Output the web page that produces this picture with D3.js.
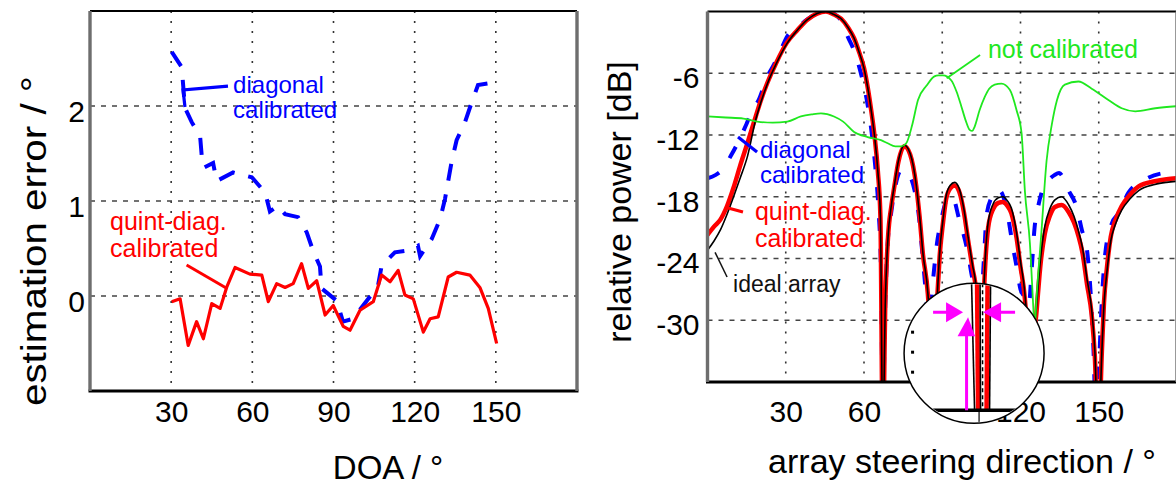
<!DOCTYPE html>
<html>
<head>
<meta charset="utf-8">
<script src="https://cdn.jsdelivr.net/npm/d3@7"></script>
<style>
  body { margin: 0; background: #fff; }
  svg text { font-family: "Liberation Sans", Arial, Helvetica, sans-serif; }
</style>
</head>
<body>
<div id="chart-area"></div>
<script>

// ---- left panel: DOA estimation error ----
var doaTicks = [30, 60, 90, 120, 150];
var errorTicks = [0, 1, 2];

var diagDoa = [30.2, 33.9, 35.1, 37.6, 40.7, 41.4, 42.1, 45.5, 46.8, 52.9, 59.8, 64.7, 66.5, 69.5, 72.1,
    76.9, 80.1, 82.4, 85.0, 85.6, 91.2, 93.5, 97.2, 102.3, 106.4, 107.8, 112.7, 117.5, 121.2, 122.0,
    126.3, 129.4, 131.2, 133.7, 135.5, 138.6, 141.1, 143.4, 147.8, 150.3];
var diagError = [2.57, 2.41, 1.98, 1.83, 1.68, 1.44, 1.35, 1.40, 1.21, 1.30, 1.25, 1.09, 0.89, 0.95, 0.86,
    0.83, 0.67, 0.48, 0.31, 0.08, -0.05, -0.27, -0.24, -0.05, 0.10, 0.32, 0.46, 0.48, 0.53, 0.42,
    0.60, 0.81, 1.02, 1.42, 1.64, 1.83, 2.04, 2.22, 2.24, 2.19];

var quintDoa = [30.2, 33.3, 36.3, 39.4, 41.9, 45.0, 48.1, 50.5, 53.6, 59.1, 63.5, 65.9, 69.0, 72.1, 75.1,
    78.2, 80.7, 83.8, 86.9, 89.9, 93.6, 96.1, 99.8, 104.7, 107.8, 110.9, 113.9, 116.4, 119.5, 123.2,
    125.7, 128.7, 132.4, 135.5, 140.4, 144.1, 147.2, 150.3];
var quintError = [-0.06, -0.03, -0.52, -0.27, -0.45, -0.08, -0.13, 0.09, 0.30, 0.23, 0.22, -0.06, 0.13, 0.09, 0.13,
    0.34, 0.08, 0.16, -0.20, -0.10, -0.32, -0.36, -0.15, -0.06, 0.22, 0.15, 0.27, 0.01, -0.03, -0.38,
    -0.24, -0.22, 0.20, 0.25, 0.22, 0.09, -0.13, -0.50];

// ---- right panel: beam patterns ----
var steerTicks = [30, 60, 90, 120, 150];
var powerTicks = [-30, -24, -18, -12, -6];

var idealSteer = [0, 2.5, 5, 7.5, 10, 12.5, 15.3, 18.5, 20.5, 23, 26.5, 30.5, 34.5, 38.3, 42, 45.4, 48.5, 51.2,
    54, 56.2, 58.2, 60, 61.5, 62.7, 64, 65.3, 66.3, 67.2, 68.2, 69.2, 70.5, 71.7, 73.2, 75.5, 77.7, 80,
    81.3, 82.6, 84.5, 85.7, 86.5, 87.6, 89, 90.3, 91.5, 93, 94.8, 96.5, 98.3, 99.9, 101.5, 103.1, 104.3,
    105.5, 106.5, 107.6, 109.5, 111.5, 113.3, 115, 116.5, 118.5, 120, 121.7, 123, 123.8, 124.8, 126.2,
    127.7, 129.3, 131.2, 133.2, 135.8, 138.5, 140.5, 142.2, 143.8, 145.5, 147.3, 148.5, 149.8, 151.2,
    152, 153.1, 154.6, 156.5, 158.8, 162, 165.3, 171.5, 176, 180];
var idealPower = [-23.2, -22.3, -21.2, -19.7, -18.0, -16.2, -14.1, -10.5, -8.8, -7.0, -5.0, -3.1, -1.8, -0.8, -0.2, 0, -0.3, -0.7,
    -1.6, -2.6, -4.0, -5.5, -7.5, -9.5, -12, -15.5, -20, -42, -28, -22, -18.8, -16.8, -14.5, -13.0, -13.8, -16.8,
    -19.8, -23.5, -27.4, -33, -42, -31, -23.5, -20.2, -17.9, -16.9, -16.6, -17.2, -19.2, -21.9, -24.5, -27.2, -42,
    -30, -24, -20.5, -18.7, -18.1, -18.0, -18.4, -19.1, -21.5, -24.3, -27.5, -33, -42, -33, -28.5,
    -24, -20.9, -19.2, -18.3, -18.0, -18.8, -19.9, -21.3, -23, -26, -29, -33, -42, -33,
    -28.5, -25.4, -22.3, -20.6, -19.3, -18.2, -17.4, -16.8, -16.6, -16.5];
var quintPower = [-21.7, -20.9, -20.2, -18.9, -17.1, -15.0, -12.8, -10.2, -8.6, -6.9, -4.9, -3.0, -1.8, -0.8, -0.2, 0, -0.3, -0.7,
    -1.6, -2.6, -4.0, -5.5, -7.5, -9.5, -12, -15.5, -20, -42, -28, -22, -18.9, -16.9, -14.6, -13.1, -13.9, -16.9,
    -19.9, -23.6, -27.5, -33, -42, -31, -23.8, -20.5, -18.2, -17.2, -16.9, -17.5, -19.5, -22.2, -24.8, -27.5, -42,
    -30.5, -24.5, -21, -19.2, -18.6, -18.5, -18.9, -19.6, -22, -24.8, -28, -33.5, -42, -33.5, -29,
    -24.5, -21.6, -19.9, -19.0, -18.8, -19.5, -20.5, -21.8, -23.5, -26.5, -29.5, -33.5, -42, -33,
    -28.3, -25.0, -21.9, -20.2, -18.9, -17.8, -17.0, -16.5, -16.3, -16.2];

var diagSteer = [0, 3, 5.6, 9, 12.7, 15, 17.2, 19.6, 23, 25.4, 28, 30.6, 34.5, 38, 42, 45.4, 49, 51.5, 53.7, 56.5,
    58.8, 61, 62.8, 64.3, 65.5, 66.5, 67.2, 68.2, 69.2, 70.4, 72, 74.3, 76.8, 79.4, 81, 82.4, 83.6, 84.6, 85.6, 86.7,
    88, 89.6, 91.2, 92.8, 94.1, 96.5, 98, 99.7, 101.2, 102.4, 103.4, 104.3, 105.3, 106.2, 107, 109, 110.8, 112.5,
    114.5, 117.2, 118.5, 120, 121.5, 123.2, 124.3, 125.4, 126.5, 128.6, 131, 133, 134.8, 136.5, 138.3, 141.5,
    143.5, 145.4, 146.8, 148, 149, 150, 151.2, 152.5, 155, 157.6, 161.4, 167.2, 174.9, 180];
var diagPower = [-16.2, -15.9, -15.4, -14.0, -12.2, -10.9, -9.6, -8.6, -6.3, -5.2, -3.8, -2.4, -1.6, -0.8, -0.2, 0, -0.3, -1.0, -2.4, -4.0,
    -6.0, -8.5, -11.5, -15, -19, -25, -38, -28, -22, -19.6, -17, -15.4, -15.7, -17.4, -19.8, -23.6, -27, -30, -28.5, -25.5,
    -22.5, -20.3, -18.6, -18, -18.1, -20.2, -21.5, -23.3, -25.5, -27, -29, -29.5, -27, -23, -19.8, -18, -17.3, -17.5,
    -19, -23, -24.8, -27, -27.7, -28.5, -25, -21, -19.3, -17.2, -16.3, -15.9, -15.7, -16.2, -17.3, -19,
    -21.2, -23, -27, -33, -40, -35, -28, -23.5, -20.6, -19.6, -17.6, -16.4, -15.7, -15.6];

var uncalSteer = [0, 7, 13.8, 19.1, 25, 30.6, 35.8, 40, 43.5, 48.5, 52, 56.2, 61.4, 66.5, 69.1, 72, 74.2, 76.2, 78.5, 80.7,
    84, 87, 88.5, 90.3, 93.5, 95.5, 97.3, 99, 100.5, 101.5, 102.4, 104.3, 106.3, 108, 110.1, 112.7, 115.9, 118.5, 120.4, 121.7,
    123.6, 124.9, 125.4, 126.1, 128, 130, 132, 134, 137, 142.2, 147.3, 153.7, 158.8, 164, 171.7, 180];
var uncalPower = [-10.2, -10.3, -10.4, -10.7, -10.8, -10.7, -10.2, -10.0, -9.9, -10.2, -10.7, -11.7, -12.2, -12.5, -12.8, -13.1, -13.1, -12.8, -11.0, -8.6,
    -7.2, -6.3, -6.2, -6.2, -6.7, -7.8, -9.2, -10.6, -11.5, -11.6, -11.2, -9.6, -8.3, -7.5, -7.1, -7.0, -7.6, -9.6, -11.8, -17.5,
    -22.5, -28.7, -31, -28, -21.5, -14.5, -11, -8.6, -7.1, -6.8, -7.5, -8.6, -9.4, -9.7, -9.4, -9.2];


var width = 1176,
    height = 486;

var BLUE = "#0000ff", RED = "#ff0000", GREEN = "#1fe81f", MAGENTA = "#ff00ff";

var svg = d3.select("#chart-area").append("svg")
    .attr("width", width)
    .attr("height", height);

var leftBox = {left: 90, right: 577, top: 11, bottom: 391};
var rightBox = {left: 707.5, right: 1177, top: 11.5, bottom: 382};

var xDoa = d3.scaleLinear().domain([0, 180]).range([leftBox.left, leftBox.right]);
var yErr = d3.scaleLinear().domain([-1, 3]).range([leftBox.bottom, leftBox.top]);
var xSteer = d3.scaleLinear().domain([0, 180]).range([rightBox.left, rightBox.right]);
var yPow = d3.scaleLinear().domain([-36, 0]).range([rightBox.bottom, rightBox.top]);


// grid lines (matlab style dotted)
function drawGrid(box, xs, ys, xTicks, yTicks, hDash) {
    var g = svg.append("g");
    g.selectAll(".vg").data(xTicks).enter().append("line")
        .attr("x1", function(d){ return xs(d); })
        .attr("x2", function(d){ return xs(d); })
        .attr("y1", box.top).attr("y2", box.bottom)
        .attr("stroke", "#333").attr("stroke-width", 1.6)
        .attr("stroke-dasharray", "2,8");
    g.selectAll(".hg").data(yTicks).enter().append("line")
        .attr("x1", box.left).attr("x2", box.right)
        .attr("y1", function(d){ return ys(d); })
        .attr("y2", function(d){ return ys(d); })
        .attr("stroke", "#444").attr("stroke-width", 1.5)
        .attr("stroke-dasharray", hDash);
}
drawGrid(leftBox, xDoa, yErr, doaTicks, errorTicks, "5,6");
drawGrid(rightBox, xSteer, yPow, steerTicks, powerTicks, "5,6");


// ---- left curves ----
var lineL = d3.line()
    .x(function(d){ return xDoa(d[0]); })
    .y(function(d){ return yErr(d[1]); });

svg.append("path")
    .datum(d3.zip(diagDoa, diagError))
    .attr("d", lineL)
    .attr("fill", "none")
    .attr("stroke", BLUE)
    .attr("stroke-width", 4)
    .attr("stroke-dasharray", "17,14");

svg.append("path")
    .datum(d3.zip(quintDoa, quintError))
    .attr("d", lineL)
    .attr("fill", "none")
    .attr("stroke", RED)
    .attr("stroke-width", 3.2)
    .attr("stroke-linejoin", "round");


// ---- right curves ----
svg.append("clipPath").attr("id", "clipR")
    .append("rect")
    .attr("x", rightBox.left).attr("y", rightBox.top)
    .attr("width", rightBox.right - rightBox.left)
    .attr("height", rightBox.bottom - rightBox.top);

var lineR = d3.line()
    .curve(d3.curveMonotoneX)
    .x(function(d){ return xSteer(d[0]); })
    .y(function(d){ return yPow(d[1]); });

var curves = svg.append("g").attr("clip-path", "url(#clipR)");

curves.append("path")
    .datum(d3.zip(diagSteer, diagPower))
    .attr("d", lineR).attr("fill", "none")
    .attr("stroke", BLUE).attr("stroke-width", 4)
    .attr("stroke-dasharray", "13,18");

curves.append("path")
    .datum(d3.zip(idealSteer, quintPower))
    .attr("d", lineR).attr("fill", "none")
    .attr("stroke", RED).attr("stroke-width", 4.5);

curves.append("path")
    .datum(d3.zip(idealSteer, idealPower))
    .attr("d", lineR).attr("fill", "none")
    .attr("stroke", "#000").attr("stroke-width", 1.6);

curves.append("path")
    .datum(d3.zip(uncalSteer, uncalPower))
    .attr("d", lineR).attr("fill", "none")
    .attr("stroke", GREEN).attr("stroke-width", 1.8);


// ---- frames ----
function frame(box) {
    svg.append("line").attr("x1", box.left).attr("x2", box.right)
        .attr("y1", box.top).attr("y2", box.top)
        .attr("stroke", "#000").attr("stroke-width", 2.2);
    svg.append("line").attr("x1", box.left - 1.5).attr("x2", box.right + 1.5)
        .attr("y1", box.bottom).attr("y2", box.bottom)
        .attr("stroke", "#000").attr("stroke-width", 3);
    svg.append("line").attr("x1", box.left).attr("x2", box.left)
        .attr("y1", box.top).attr("y2", box.bottom)
        .attr("stroke", "#6e6e6e").attr("stroke-width", 3.4);
    svg.append("line").attr("x1", box.right).attr("x2", box.right)
        .attr("y1", box.top).attr("y2", box.bottom)
        .attr("stroke", "#6e6e6e").attr("stroke-width", 3.4);
}
frame(leftBox);
frame(rightBox);


// ---- axes (labels only) ----
function styleAxis(g) {
    g.select(".domain").remove();
    g.attr("font-family", '"Liberation Sans", Arial, sans-serif')
        .attr("font-size", 30);
}
var plainFormat = function(d){ return String(d); };

svg.append("g")
    .attr("transform", "translate(0," + leftBox.bottom + ")")
    .call(d3.axisBottom(xDoa).tickValues(doaTicks).tickSize(0).tickPadding(10).tickFormat(plainFormat))
    .call(styleAxis);

svg.append("g")
    .attr("transform", "translate(" + leftBox.left + ",0)")
    .call(d3.axisLeft(yErr).tickValues(errorTicks).tickSize(0).tickPadding(5).tickFormat(plainFormat))
    .call(styleAxis)
    .selectAll("text").attr("dy", "0.5em");

var steerAxis = svg.append("g")
    .attr("transform", "translate(0," + rightBox.bottom + ")")
    .call(d3.axisBottom(xSteer).tickValues(steerTicks).tickSize(0).tickPadding(19).tickFormat(plainFormat))
    .call(styleAxis);

svg.append("g")
    .attr("transform", "translate(" + rightBox.left + ",0)")
    .call(d3.axisLeft(yPow).tickValues(powerTicks).tickSize(0).tickPadding(8).tickFormat(plainFormat))
    .call(styleAxis)
    .selectAll("text").attr("dy", "0.48em");

// axis titles
svg.append("text")
    .attr("transform", "translate(46,241) rotate(-90)")
    .attr("text-anchor", "middle")
    .attr("font-size", 35)
    .attr("textLength", 330)
    .attr("lengthAdjust", "spacingAndGlyphs")
    .text("estimation error / °");

svg.append("text")
    .attr("x", 388).attr("y", 479)
    .attr("text-anchor", "middle")
    .attr("font-size", 33)
    .text("DOA / °");

svg.append("text")
    .attr("transform", "translate(631,202) rotate(-90)")
    .attr("text-anchor", "middle")
    .attr("font-size", 34)
    .text("relative power [dB]");

svg.append("text")
    .attr("x", 962).attr("y", 473)
    .attr("text-anchor", "middle")
    .attr("font-size", 34)
    .text("array steering direction / °");


// ---- magnifier inset ----
var lens = {cx: xSteer(102.2), cy: yPow(-33.2), r: 70};

// the lens hides the "90" tick label, as in the original figure
steerAxis.selectAll(".tick").filter(function(d){ return d === 90; }).remove();

svg.append("clipPath").attr("id", "clipLens")
    .append("circle").attr("cx", lens.cx).attr("cy", lens.cy).attr("r", lens.r - 1);

svg.append("circle")
    .attr("cx", lens.cx).attr("cy", lens.cy).attr("r", lens.r)
    .attr("fill", "#fff").attr("stroke", "#000").attr("stroke-width", 1.5);

var inner = svg.append("g").attr("clip-path", "url(#clipLens)");
var baseY = lens.cy + 57;

// magnified null: [top offset, bottom offset, colour, width, dash]
var lensStrokes = [
    [3, 4, RED, 4.5, null],
    [-2.5, 0.5, "#000", 1.6, null],
    [6, 6.5, "#000", 1.6, null],
    [8.5, 8.5, "#000", 1.5, "4,3"],
    [13.5, 12.5, RED, 4.5, null],
    [16.5, 15.5, "#000", 1.6, null]
];
inner.selectAll(".ls").data(lensStrokes).enter().append("line")
    .attr("x1", function(d){ return lens.cx + d[0]; })
    .attr("x2", function(d){ return lens.cx + d[1]; })
    .attr("y1", lens.cy - lens.r)
    .attr("y2", baseY)
    .attr("stroke", function(d){ return d[2]; })
    .attr("stroke-width", function(d){ return d[3]; })
    .attr("stroke-dasharray", function(d){ return d[4]; });

inner.selectAll(".ld").data([-21, -1, 19]).enter().append("rect")
    .attr("x", lens.cx - 63).attr("y", function(d){ return lens.cy + d - 1.5; })
    .attr("width", 3).attr("height", 3).attr("fill", "#000");

inner.append("line")
    .attr("x1", lens.cx - 41).attr("x2", lens.cx + 43)
    .attr("y1", baseY).attr("y2", baseY)
    .attr("stroke", "#000").attr("stroke-width", 3.5);
inner.append("line")
    .attr("x1", lens.cx + 5).attr("x2", lens.cx + 5)
    .attr("y1", baseY).attr("y2", baseY + 14)
    .attr("stroke", "#000").attr("stroke-width", 1.2);

// arrows
var ay = lens.cy - 41;
inner.append("line").attr("x1", lens.cx - 41).attr("x2", lens.cx - 26)
    .attr("y1", ay).attr("y2", ay).attr("stroke", MAGENTA).attr("stroke-width", 3);
inner.append("polygon")
    .attr("points", [[lens.cx - 28, ay - 10], [lens.cx - 11, ay], [lens.cx - 28, ay + 10]].join(" "))
    .attr("fill", MAGENTA);
inner.append("line").attr("x1", lens.cx + 41).attr("x2", lens.cx + 26)
    .attr("y1", ay).attr("y2", ay).attr("stroke", MAGENTA).attr("stroke-width", 3);
inner.append("polygon")
    .attr("points", [[lens.cx + 27, ay - 10], [lens.cx + 9, ay], [lens.cx + 27, ay + 10]].join(" "))
    .attr("fill", MAGENTA);
inner.append("line").attr("x1", lens.cx - 7.5).attr("x2", lens.cx - 7.5)
    .attr("y1", baseY).attr("y2", lens.cy - 18)
    .attr("stroke", MAGENTA).attr("stroke-width", 3);
inner.append("polygon")
    .attr("points", [[lens.cx - 16.5, lens.cy - 17], [lens.cx - 6, lens.cy - 36], [lens.cx + 1, lens.cy - 17]].join(" "))
    .attr("fill", MAGENTA);


// ---- annotations ----
function note(xs, ys, pos, lines, color, size, lineGap) {
    lines.forEach(function(t, i){
        svg.append("text")
            .attr("x", xs(pos[0]))
            .attr("y", ys(pos[1]) + i * lineGap)
            .attr("fill", color)
            .attr("font-size", size)
            .text(t);
    });
}
function leader(xs, ys, pts, color, w) {
    svg.append("path")
        .attr("d", d3.line().x(function(d){ return xs(d[0]); }).y(function(d){ return ys(d[1]); })(pts))
        .attr("fill", "none").attr("stroke", color).attr("stroke-width", w);
}

note(xDoa, yErr, [52.9, 2.14], ["diagonal", "calibrated"], BLUE, 24, 25);
leader(xDoa, yErr, [[51.0, 2.21], [34.4, 2.17], [35.1, 1.99]], BLUE, 3.2);

note(xDoa, yErr, [7.4, 0.695], ["quint-diag.", "calibrated"], RED, 25, 27);
leader(xDoa, yErr, [[35.7, 0.326], [50.5, 0.081]], RED, 3);

note(xSteer, yPow, [107.5, -4.52], ["not calibrated"], GREEN, 25, 0);
leader(xSteer, yPow, [[104.5, -4.23], [91.7, -6.49]], GREEN, 1.8);

note(xSteer, yPow, [20.1, -14.23], ["diagonal", "calibrated"], BLUE, 24, 25);
leader(xSteer, yPow, [[19.0, -13.65], [11.7, -12.19]], BLUE, 3.2);

note(xSteer, yPow, [18.2, -20.26], ["quint-diag.", "calibrated"], RED, 25, 27);
leader(xSteer, yPow, [[13.6, -19.48], [7.9, -19.09]], RED, 3);

note(xSteer, yPow, [9.8, -27.25], ["ideal array"], "#111", 23, 0);
leader(xSteer, yPow, [[7.5, -25.8], [2.9, -23.4]], "#111", 1.5);

</script>
</body>
</html>
